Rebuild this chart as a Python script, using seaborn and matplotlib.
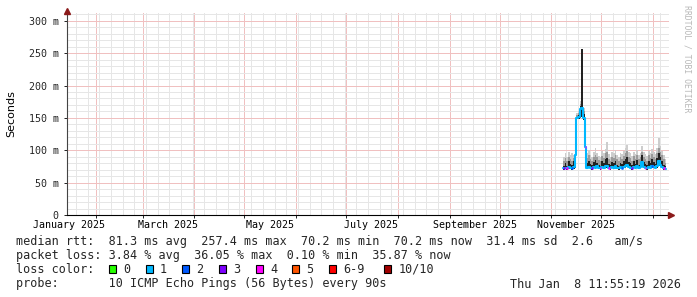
import numpy as np
import pandas as pd
import matplotlib
matplotlib.use("Agg")
import matplotlib.pyplot as plt
import matplotlib.dates as mdates
from matplotlib.ticker import MultipleLocator, NullFormatter
from matplotlib.patches import Rectangle
import matplotlib.transforms as mtransforms
import seaborn as sns

# ---------------- data ----------------
start_date = "2025-11-08"   # first daily sample
median_ms = [72, 73, 72, 74, 73, 72, 74, 92, 150, 151, 163, 165, 150, 105,
             73, 74, 73, 72, 74, 73, 75, 73, 72, 74,
             73, 75, 76, 73, 72, 74, 73, 75, 73, 72,
             74, 73, 74, 76, 78, 74, 73, 72, 74, 73,
             75, 73, 74, 82, 74, 73, 72, 74, 73, 75,
             74, 73, 76, 84, 78, 74, 72, 71]
min_ms = [70, 71, 70, 71, 71, 70, 71, 72, 148, 149, 150, 152, 147, 72,
          71, 72, 71, 70, 72, 71, 72, 71, 70, 72,
          71, 72, 73, 71, 70, 72, 71, 72, 71, 70,
          72, 71, 72, 73, 74, 72, 71, 70, 72, 71,
          72, 71, 72, 74, 72, 71, 70, 72, 71, 72,
          72, 71, 73, 75, 74, 72, 70, 69]
smoke_dark_ms = [76, 80, 75, 84, 79, 77, 83, 95, 152, 154, 168, 257, 156, 108,
                 80, 84, 79, 77, 82, 85, 81, 78, 76, 83,
                 80, 86, 88, 79, 77, 82, 80, 84, 78, 76,
                 81, 79, 83, 87, 90, 82, 80, 77, 83, 79,
                 85, 78, 81, 93, 82, 79, 77, 84, 80, 86,
                 82, 79, 88, 95, 90, 84, 78, 75]
smoke_mid_ms = [84, 88, 83, 90, 86, 84, 88, 98, 155, 157, 172, 257, 160, 110,
                88, 92, 86, 84, 90, 93, 89, 85, 83, 91,
                88, 95, 97, 87, 84, 90, 88, 92, 86, 83,
                89, 87, 91, 96, 99, 90, 88, 84, 91, 87,
                93, 86, 89, 98, 90, 87, 84, 92, 88, 94,
                90, 87, 96, 104, 98, 92, 86, 80]
smoke_max_ms = [90, 95, 89, 97, 93, 95, 92, 102, 158, 160, 176, 257, 165, 112,
                95, 100, 92, 90, 97, 104, 96, 91, 89, 99,
                95, 102, 113, 94, 90, 97, 95, 100, 93, 89,
                96, 94, 99, 104, 108, 97, 95, 91, 98, 94,
                101, 93, 96, 106, 97, 94, 91, 99, 95, 102,
                97, 94, 104, 119, 106, 99, 93, 86]
loss_level = [3, 1, 4, 1, 1, 2, 1, 1, 1, 1, 1, 1, 1, 4,
              1, 1, 1, 3, 1, 1, 1, 1, 4, 1,
              1, 1, 1, 4, 1, 1, 1, 1, 1, 1,
              1, 2, 1, 1, 1, 1, 1, 3, 1, 1,
              1, 1, 1, 1, 1, 4, 1, 1, 1, 2,
              1, 1, 1, 1, 1, 1, 4, 1]

y_ticks = [0, 50, 100, 150, 200, 250, 300]
y_tick_labels = ["0", "50 m", "100 m", "150 m", "200 m", "250 m", "300 m"]
month_labels = ["January 2025", "March 2025", "May 2025", "July 2025",
                "September 2025", "November 2025"]
month_label_dates = ["2025-01-16", "2025-03-16", "2025-05-16", "2025-07-16",
                     "2025-09-16", "2025-11-16"]
loss_names = ["0", "1", "2", "3", "4", "5", "6-9", "10/10"]
loss_colors = ["#26ff00", "#00b8ff", "#0059ff", "#7e00ff", "#ff00ff",
               "#ff5500", "#ff0000", "#a10000"]
line_rtt = "median rtt:  81.3 ms avg  257.4 ms max  70.2 ms min  70.2 ms now  31.4 ms sd  2.6   am/s"
line_loss = "packet loss: 3.84 % avg  36.05 % max  0.10 % min  35.87 % now"
line_probe = "probe:       10 ICMP Echo Pings (56 Bytes) every 90s"
stamp = "Thu Jan  8 11:55:19 2026"
watermark = "RRDTOOL / TOBI OETIKER"
x_start = "2025-01-14 07:00"
x_end = "2026-01-10 12:00"

# ---------------- style ----------------
sns.set_theme(style="white")
plt.rcParams["font.family"] = ["DejaVu Sans Mono", "DejaVu Sans"]
plt.rcParams["axes.edgecolor"] = "#222222"

W, H = 697, 297
fig = plt.figure(figsize=(W / 100, H / 100), dpi=100, facecolor="white")
ax = fig.add_axes([66.5 / W, (H - 215) / H, (669 - 66.5) / W, (215 - 13) / H])
ax.set_facecolor("white")

dates = pd.date_range(start_date, periods=len(median_ms), freq="D")
# step edges (one extra edge after the last day)
edges = dates.append(pd.DatetimeIndex([dates[-1] + pd.Timedelta(days=1)]))

def ext(a):
    a = list(a)
    return a + [a[-1]]

ax.fill_between(edges, ext(min_ms), ext(smoke_max_ms), step="post",
                color="#cdcdcd", lw=0, zorder=2)
ax.fill_between(edges, ext(min_ms), ext(smoke_mid_ms), step="post",
                color="#9a9a9a", lw=0, zorder=3)
ax.fill_between(edges, ext(min_ms), ext(smoke_dark_ms), step="post",
                color="#222222", lw=0, zorder=4)

df_line = pd.DataFrame({"date": edges, "median": ext(median_ms)})
sns.lineplot(data=df_line, x="date", y="median", drawstyle="steps-post",
             color=loss_colors[1], lw=1.5, ax=ax, legend=False, zorder=5)
for i, lv in enumerate(loss_level):
    if lv != 1:
        ax.hlines(median_ms[i], edges[i], edges[i + 1], colors=loss_colors[lv],
                  lw=1.8, zorder=6)

# ---------------- axes ----------------
ax.set_xlim(pd.Timestamp(x_start), pd.Timestamp(x_end))
ax.set_ylim(0, 312)
ax.set_xlabel("")
ax.set_ylabel("")

ax.yaxis.set_major_locator(MultipleLocator(50))
ax.yaxis.set_minor_locator(MultipleLocator(10))
ax.set_yticks(y_ticks)
ax.set_yticklabels(y_tick_labels, fontsize=7.2, family="DejaVu Sans Mono")
ax.xaxis.set_major_locator(mdates.MonthLocator())
ax.xaxis.set_minor_locator(mdates.WeekdayLocator(byweekday=mdates.MO))
ax.xaxis.set_major_formatter(NullFormatter())
ax.tick_params(axis="y", which="major", length=2.5, width=0.7, color="#222222",
               pad=3, left=True)
ax.tick_params(axis="x", which="major", length=2, width=0.7, color="#222222",
               bottom=True)
ax.tick_params(which="minor", length=0)

# light 1 px grid (visual equivalent of rrdtool's dotted grid)
grid_kw = dict(lw=0.72, linestyle="-", antialiased=False)
ax.grid(True, which="minor", axis="both", color="#e6e6e6", **grid_kw)
ax.grid(True, which="major", axis="both", color="#f0c0c0", **grid_kw)
ax.set_axisbelow(True)

for s in ["top", "right"]:
    ax.spines[s].set_visible(False)
ax.spines["left"].set_color("#444444")
ax.spines["left"].set_linewidth(0.8)
ax.spines["bottom"].set_color("#000000")
ax.spines["bottom"].set_linewidth(0.8)

# arrows
ax.plot([1.004], [0], marker=">", color="#8b1a1a", markersize=4, transform=ax.transAxes,
        clip_on=False, zorder=10)
ax.plot([0], [1.012], marker="^", color="#8b1a1a", markersize=4, transform=ax.transAxes,
        clip_on=False, zorder=10)

# month labels (centred mid-month like rrdtool)
trans = mtransforms.blended_transform_factory(ax.transData, ax.transAxes)
for lab, d in zip(month_labels, month_label_dates):
    ax.text(mdates.date2num(pd.Timestamp(d)), -13.5 / 202, lab, transform=trans,
            ha="center", va="baseline", fontsize=7.2, family="DejaVu Sans Mono",
            color="black")

# ---------------- figure texts ----------------
def fx(x):
    return x / W

def fy(y):
    return 1 - y / H

fig.text(fx(11), fy(114), "Seconds", rotation=90, ha="center", va="center",
         fontsize=8, family="DejaVu Sans", color="black")
fig.text(fx(687.5), fy(59), watermark, rotation=270, ha="center", va="center",
         fontsize=5.9, family="DejaVu Sans Mono", color="#b8b8b8")

tfs = 8.5
fig.text(fx(16), fy(245), line_rtt, ha="left", va="baseline", fontsize=tfs,
         family="DejaVu Sans Mono")
fig.text(fx(16), fy(259.5), line_loss, ha="left", va="baseline", fontsize=tfs,
         family="DejaVu Sans Mono")
fig.text(fx(16), fy(273), "loss color:", ha="left", va="baseline", fontsize=tfs,
         family="DejaVu Sans Mono")
box_x = [109, 145.7, 182.3, 219, 255.7, 292.3, 329.3, 384]
for bx, name, col in zip(box_x, loss_names, loss_colors):
    fig.patches.append(Rectangle((fx(bx), fy(273.3)), 7 / W, 8.3 / H,
                                 transform=fig.transFigure, facecolor=col,
                                 edgecolor="black", lw=0.8))
    fig.text(fx(bx + 14.3), fy(273), name, ha="left", va="baseline",
             fontsize=tfs, family="DejaVu Sans Mono")
fig.text(fx(16), fy(287.5), line_probe, ha="left", va="baseline", fontsize=tfs,
         family="DejaVu Sans Mono")
fig.text(fx(681), fy(287.5), stamp, ha="right", va="baseline", fontsize=tfs,
         family="DejaVu Sans Mono")

fig.savefig("out.png", dpi=100, facecolor="white")
